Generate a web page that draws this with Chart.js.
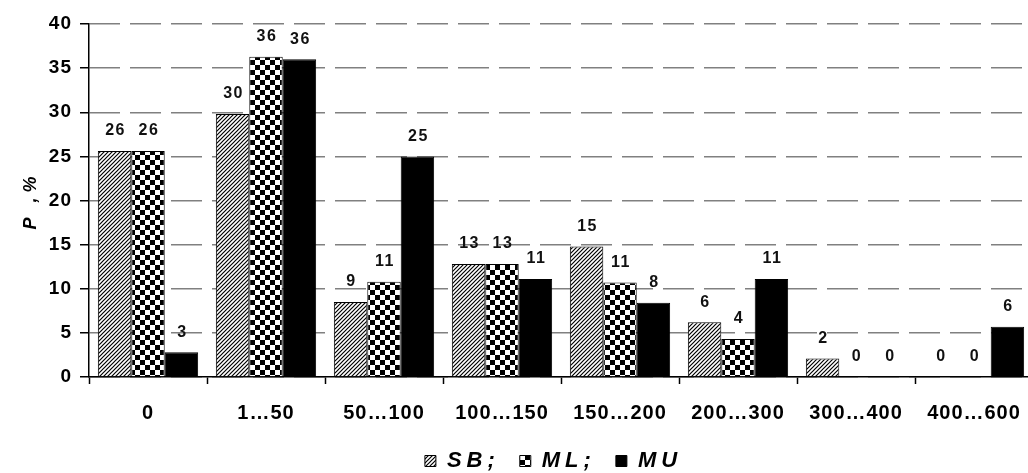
<!DOCTYPE html>
<html>
<head>
<meta charset="utf-8">
<script src="https://cdn.jsdelivr.net/npm/chart.js@4/dist/chart.umd.min.js"></script>
<style>
  html, body { margin: 0; padding: 0; background: #fff; overflow: hidden; }
  canvas { display: block; }
</style>
</head>
<body>
<canvas id="myChart" width="1036" height="473" style="width:1036px;height:473px"></canvas>
<script>
// chart data
const categories = ['0', '1…50', '50…100', '100…150', '150…200', '200…300', '300…400', '400…600'];
const sbValues = [25.6, 29.8, 8.5, 12.8, 14.8, 6.2, 2.1, 0];
const mlValues = [25.6, 36.3, 10.8, 12.8, 10.7, 4.3, 0, 0];
const muValues = [2.8, 36.0, 25.0, 11.1, 8.4, 11.1, 0, 5.7];
const yTicks = [0, 5, 10, 15, 20, 25, 30, 35, 40];

const FONT = "'Liberation Sans', Arial, sans-serif";

// hatch "/" for SB
function hatchPattern() {
  const c = document.createElement('canvas');
  c.width = 4; c.height = 4;
  const g = c.getContext('2d');
  g.fillStyle = '#fff';
  g.fillRect(0, 0, 4, 4);
  g.strokeStyle = '#000';
  g.lineWidth = 1.2;
  g.beginPath();
  g.moveTo(-1, 5); g.lineTo(5, -1);
  g.moveTo(-1, 1); g.lineTo(1, -1);
  g.moveTo(3, 5); g.lineTo(5, 3);
  g.stroke();
  return g.createPattern(c, 'repeat');
}

// checkerboard for ML
function checkPattern() {
  const c = document.createElement('canvas');
  c.width = 10; c.height = 10;
  const g = c.getContext('2d');
  g.fillStyle = '#fff';
  g.fillRect(0, 0, 10, 10);
  g.fillStyle = '#000';
  g.fillRect(0, 0, 5, 5);
  g.fillRect(5, 5, 5, 5);
  return g.createPattern(c, 'repeat');
}

// dashed grey stroke (31 on / 10 off), phase starts at the y axis (x=89)
function dashPattern() {
  const c = document.createElement('canvas');
  c.width = 41; c.height = 4;
  const g = c.getContext('2d');
  g.fillStyle = '#808080';
  g.fillRect(7, 0, 31, 4);
  return g.createPattern(c, 'repeat');
}

// value labels above the bars + letter spacing for texts
const barLabels = {
  id: 'barLabels',
  beforeUpdate(chart) { chart.ctx.letterSpacing = '5px'; },
  beforeDraw(chart) { chart.ctx.letterSpacing = '5px'; },
  afterLayout(chart) {
    const lg = chart.legend;
    lg.left += 37; lg.right += 37;
    lg.top += 9; lg.bottom += 9;
  },
  afterDatasetsDraw(chart) {
    const ctx = chart.ctx;
    ctx.save();
    ctx.letterSpacing = '1.5px';
    ctx.font = 'bold 16px ' + FONT;
    ctx.fillStyle = '#111';
    ctx.textAlign = 'center';
    ctx.textBaseline = 'middle';
    chart.data.datasets.forEach((ds, i) => {
      chart.getDatasetMeta(i).data.forEach((bar, j) => {
        ctx.fillText(String(Math.round(ds.data[j])), bar.x + 1, bar.y - 20);
      });
    });
    ctx.restore();
    ctx.letterSpacing = '1px';
  }
};

const ctx = document.getElementById('myChart').getContext('2d');
const chart = new Chart(ctx, {
  type: 'bar',
  data: {
    labels: categories,
    datasets: [
      { label: 'SB;', data: sbValues, backgroundColor: hatchPattern(), borderColor: '#000', borderWidth: 1 },
      { label: 'ML;', data: mlValues, backgroundColor: checkPattern(), borderColor: '#000', borderWidth: 1 },
      { label: 'MU', data: muValues, backgroundColor: '#000', borderColor: '#000', borderWidth: 1 }
    ]
  },
  options: {
    responsive: false,
    animation: false,
    devicePixelRatio: 1,
    layout: { padding: { top: 24, right: 3, left: 0, bottom: 0 } },
    datasets: { bar: { categoryPercentage: 0.85, barPercentage: 1 } },
    plugins: {
      legend: {
        position: 'bottom',
        labels: {
          boxWidth: 11, boxHeight: 11, padding: 20, color: '#000',
          font: { family: FONT, size: 22, style: 'italic', weight: 'bold' }
        }
      },
      tooltip: { enabled: false }
    },
    scales: {
      x: {
        offset: true,
        grid: { offset: true, drawOnChartArea: false, tickLength: 7, tickColor: '#000', tickWidth: 1.5 },
        border: { color: '#000', width: 1.5 },
        ticks: { z: 1, padding: 17, color: '#000', autoSkip: false, maxRotation: 0,
          font: { family: FONT, size: 20, weight: 'bold' } },
        afterFit(scale) {
          scale.height = 44;
          scale.paddingLeft = 0;
          scale.paddingRight = 0;
        }
      },
      y: {
        min: 0, max: 40,
        afterBuildTicks(scale) { scale.ticks = yTicks.map(v => ({ value: v })); },
        grid: { color: dashPattern(), lineWidth: 1.5, tickLength: 9, tickColor: '#000', tickWidth: 1.5 },
        border: { color: '#000', width: 1.5 },
        ticks: { z: 1, padding: 8, color: '#000',
          font: { family: FONT, size: 19, weight: 'bold' } },
        title: { display: true, text: 'P ,%', color: '#000', padding: { top: 20, bottom: 0 },
          font: { family: FONT, size: 18, style: 'italic', weight: 'bold' } },
        afterFit(scale) { scale.width = 89; }
      }
    }
  },
  plugins: [barLabels]
});
</script>
</body>
</html>
